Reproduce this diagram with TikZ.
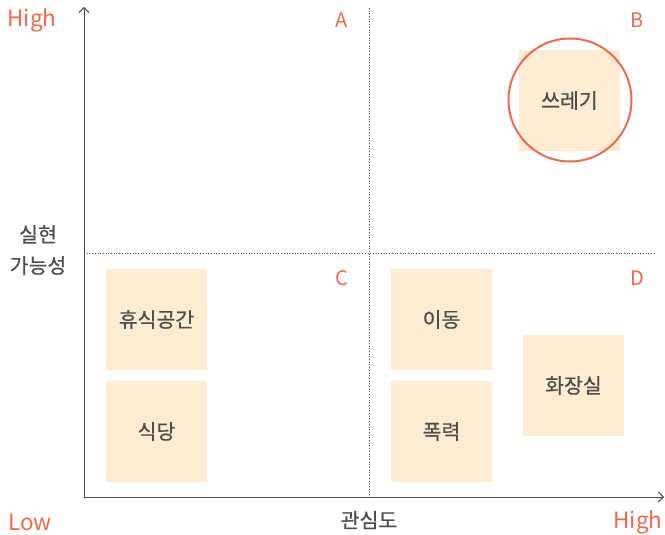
\documentclass[tikz,border=0pt]{standalone}
\usepackage{fontspec}
\setmainfont{Noto Sans CJK KR}
\newfontfamily\medfont[FakeBold=0.5]{Noto Sans CJK KR}
\usetikzlibrary{arrows.meta}
\definecolor{acc}{HTML}{F0694A}
\definecolor{boxfill}{HTML}{FDECD2}
\definecolor{txt}{HTML}{4D4D4D}
\begin{document}
\begin{tikzpicture}[x=1pt,y=-1pt,
  cell/.style={fill=boxfill,minimum width=101pt,minimum height=101pt,inner sep=0pt,text=txt,font=\medfont\fontsize{20.5}{22}\selectfont},
  quad/.style={text=acc,font=\fontsize{20}{22}\selectfont},
  lvl/.style={text=acc,font=\fontsize{22.5}{24}\selectfont},
  axis/.style={draw=black!70,line width=0.9pt,-{Straight Barb[length=5pt,width=10pt]}},
  grid/.style={draw=black!70,line width=0.7pt,dotted}]
\useasboundingbox (0,0) rectangle (665,535);
\coordinate (o) at (84,497);
\coordinate (ytop) at (84,7);
\coordinate (xend) at (664,497);
\coordinate (vt) at (369,8);
\coordinate (vb) at (369,497);
\coordinate (hl) at (84,253);
\coordinate (hr) at (656,253);
\draw[grid] (vt) -- (vb);
\draw[grid] (hl) -- (hr);
\node[cell] (b1) at (156.5,319.5) {휴식공간};
\node[cell] (b2) at (156.5,431.5) {식당};
\node[cell] (b3) at (441.5,319.5) {이동};
\node[cell] (b4) at (441.5,431.5) {폭력};
\node[cell] (b5) at (573.5,385.5) {화장실};
\node[cell] (b6) at (569.5,100.5) {쓰레기};
\node[draw=acc,line width=2pt,circle,minimum size=123pt] (ring) at (570,100) {};
\draw[axis] (o) -- (ytop);
\draw[axis] (o) -- (xend);
\node[quad] (qa) at (342,20) {A};
\node[quad] (qb) at (637,20) {B};
\node[quad] (qc) at (342,278) {C};
\node[quad] (qd) at (637,278) {D};
\node[lvl] (hi1) at (32,20) {High};
\node[lvl] (lo) at (30,522) {Low};
\node[lvl] (hi2) at (638,522) {High};
\node[text=txt,font=\medfont\fontsize{20.5}{22}\selectfont] (xl) at (369,520) {관심도};
\node[text=txt,font=\medfont\fontsize{20.5}{31}\selectfont,align=center] (yl) at (38,250) {실현\\가능성};
\end{tikzpicture}
\end{document}
